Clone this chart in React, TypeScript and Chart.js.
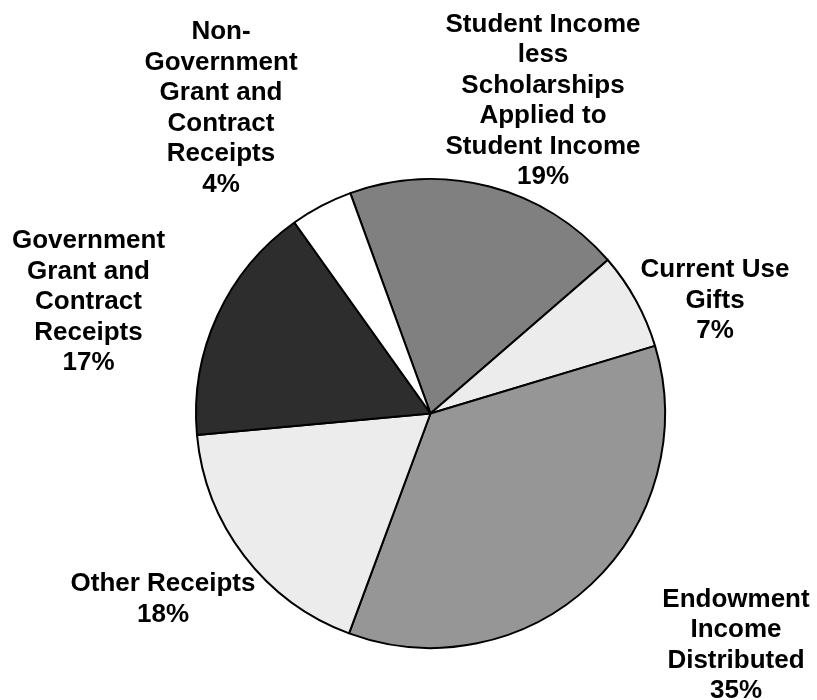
import { useEffect, useRef } from "react";
import { Chart, registerables } from "chart.js";

Chart.register(...registerables);

// ---- data ----
const categoryLines: string[][] = [
  ["Student Income", "less", "Scholarships", "Applied to", "Student Income"],
  ["Current Use", "Gifts"],
  ["Endowment", "Income", "Distributed"],
  ["Other Receipts"],
  ["Government", "Grant and", "Contract", "Receipts"],
  ["Non-", "Government", "Grant and", "Contract", "Receipts"],
];
const shares: number[] = [19.2, 6.7, 35.3, 17.9, 16.6, 4.3];

// ---- styles / layout (not data) ----
const sliceColors = ["#808080", "#ececec", "#969696", "#ececec", "#2d2d2d", "#ffffff"];
// label block centre, relative to the pie centre
const labelOffsets: [number, number][] = [
  [112.5, -315],
  [284.5, -114.9],
  [305.5, 229.6],
  [-267.5, 183.9],
  [-342, -113.8],
  [-209.5, -307.3],
];
const FONT_SIZE = 26;
const LINE_HEIGHT = 30.5;
const CAP_HALF = 9.3;

const outsideLabels = {
  id: "outsideLabels",
  afterDatasetsDraw(chart: any) {
    const ctx = chart.ctx as CanvasRenderingContext2D;
    const meta = chart.getDatasetMeta(0);
    const values = chart.data.datasets[0].data as number[];
    const total = values.reduce((a, b) => a + b, 0);
    ctx.save();
    ctx.font = `bold ${FONT_SIZE}px "Liberation Sans", Arial, sans-serif`;
    ctx.fillStyle = "#000000";
    ctx.textAlign = "center";
    ctx.textBaseline = "alphabetic";
    meta.data.forEach((arc: any, i: number) => {
      const pct = Math.round((values[i] / total) * 100) + "%";
      const lines = [...categoryLines[i], pct];
      const [dx, dy] = labelOffsets[i];
      const cx = arc.x + dx;
      const cy = arc.y + dy;
      const first = cy + CAP_HALF - ((lines.length - 1) * LINE_HEIGHT) / 2;
      lines.forEach((t, j) => ctx.fillText(t, cx, first + j * LINE_HEIGHT));
    });
    ctx.restore();
  },
};

export default function App() {
  const ref = useRef<HTMLCanvasElement | null>(null);
  useEffect(() => {
    if (!ref.current) return;
    const chart = new Chart(ref.current, {
      type: "pie",
      data: {
        labels: categoryLines.map((l) => l.join(" ")),
        datasets: [
          {
            data: shares,
            backgroundColor: sliceColors,
            borderColor: "#000000",
            borderWidth: 2,
            hoverBorderWidth: 2,
          },
        ],
      },
      options: {
        responsive: false,
        animation: false,
        events: [],
        rotation: -20,
        radius: 234.5,
        layout: { padding: { left: 196, right: 152, top: 179, bottom: 52 } },
        plugins: {
          legend: { display: false },
          tooltip: { enabled: false },
        },
      },
      plugins: [outsideLabels],
    });
    return () => chart.destroy();
  }, []);
  return (
    <div style={{ position: "absolute", left: 0, top: 0, width: 817, height: 700, background: "#fff" }}>
      <canvas ref={ref} width={817} height={700} style={{ display: "block" }} />
    </div>
  );
}
